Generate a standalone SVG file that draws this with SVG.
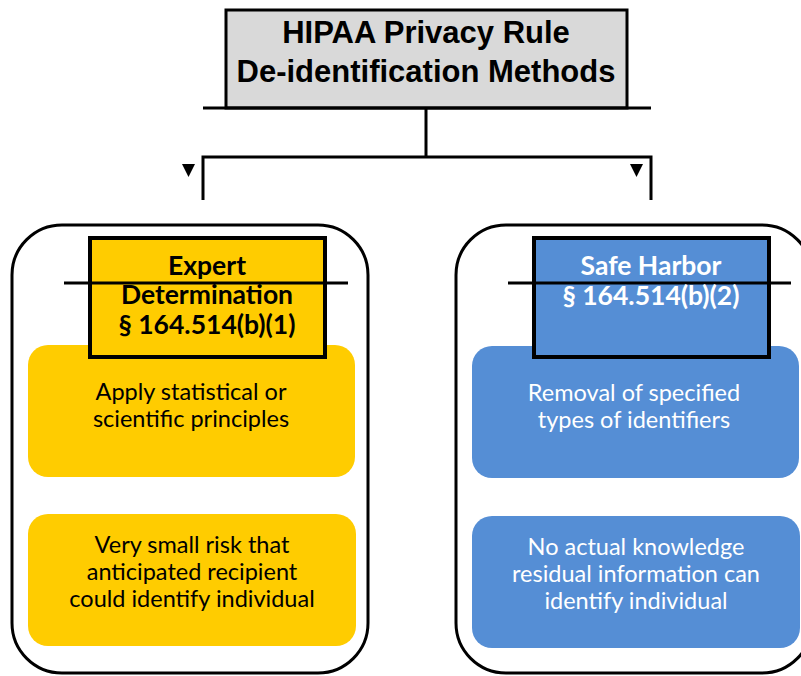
<svg xmlns="http://www.w3.org/2000/svg" width="801" height="676" viewBox="0 0 801 676">
<style>
.outer{fill:#fff;stroke:#000;stroke-width:3}
.y{fill:#FFCC00}
.b{fill:#558ED5}
.hdr{stroke:#000;stroke-width:4}
.ln{stroke:#000;stroke-width:3;fill:none}
.title{font-family:"Liberation Sans",Arial,sans-serif;font-weight:bold;font-size:31px;fill:#000;text-anchor:middle}
.h{font-family:Lato,"Liberation Sans",sans-serif;font-weight:bold;font-size:26.5px;text-anchor:middle}
.t{font-family:Lato,"Liberation Sans",sans-serif;font-size:23.5px;text-anchor:middle}
.dk{fill:#000}
.wt{fill:#fff}
</style>
<rect width="801" height="676" fill="#fff"/>
<g id="title">
<rect x="226" y="10" width="401" height="98" fill="#D9D9D9" stroke="#000" stroke-width="3"/>
<text class="title" x="426" y="43">HIPAA Privacy Rule</text>
<text class="title" x="426" y="82">De-identification Methods</text>
</g>
<g id="connectors">
<line class="ln" x1="203" y1="108" x2="651" y2="108"/>
<line class="ln" x1="426" y1="108" x2="426" y2="157"/>
<polyline class="ln" points="203,200 203,157 651,157 651,200"/>
<polygon points="182,164 195,164 188.5,177" fill="#000"/>
<polygon points="630,164 643,164 636.5,177" fill="#000"/>
</g>
<g id="expert">
<rect class="outer" x="12" y="225" width="356" height="448" rx="50"/>
<rect class="y" x="28" y="345" width="327" height="132" rx="20"/>
<rect class="y" x="28" y="514" width="328" height="132" rx="20"/>
<rect class="y hdr" x="90" y="238" width="235" height="119"/>
<line class="ln" x1="64" y1="283" x2="348" y2="283"/>
<text class="h dk" x="207" y="275">Expert</text>
<text class="h dk" x="207" y="304">Determination</text>
<text class="h dk" x="207" y="334">§ 164.514(b)(1)</text>
<text class="t dk" x="191" y="400">Apply statistical or</text>
<text class="t dk" x="191" y="427">scientific principles</text>
<text class="t dk" x="192" y="553">Very small risk that</text>
<text class="t dk" x="192" y="580">anticipated recipient</text>
<text class="t dk" x="192" y="607">could identify individual</text>
</g>
<g id="safeharbor">
<rect class="outer" x="456" y="225" width="356" height="448" rx="50"/>
<rect class="b" x="472" y="346" width="327" height="132" rx="20"/>
<rect class="b" x="472" y="516" width="328" height="132" rx="20"/>
<rect class="b hdr" x="534" y="238" width="235" height="119"/>
<line class="ln" x1="508" y1="283" x2="791" y2="283"/>
<text class="h wt" x="651" y="275">Safe Harbor</text>
<text class="h wt" x="651" y="305">§ 164.514(b)(2)</text>
<text class="t wt" x="634" y="401">Removal of specified</text>
<text class="t wt" x="634" y="428">types of identifiers</text>
<text class="t wt" x="636" y="555">No actual knowledge</text>
<text class="t wt" x="636" y="582">residual information can</text>
<text class="t wt" x="636" y="609">identify individual</text>
</g>
</svg>
